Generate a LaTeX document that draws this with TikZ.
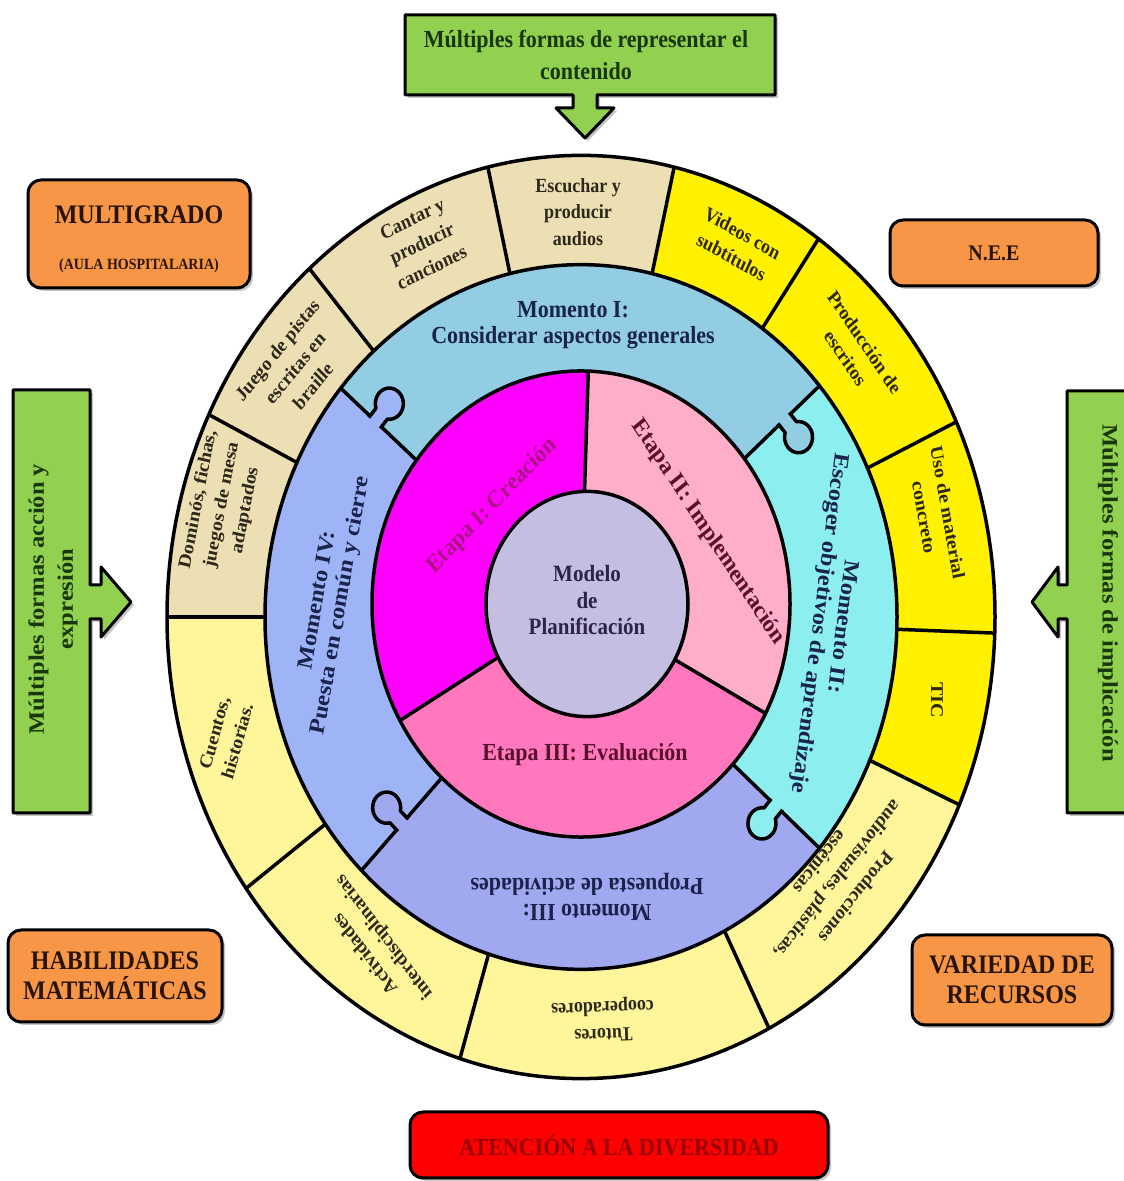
\documentclass[tikz,border=0pt]{standalone}
\usepackage{fontspec}
\setmainfont{Liberation Serif}
\usetikzlibrary{shadows}
\definecolor{tanc}{RGB}{236,223,180}
\definecolor{yel}{RGB}{255,241,0}
\definecolor{lyel}{RGB}{255,245,155}
\definecolor{mI}{RGB}{146,205,228}
\definecolor{mII}{RGB}{140,238,238}
\definecolor{mIII}{RGB}{160,168,240}
\definecolor{mIV}{RGB}{158,180,246}
\definecolor{eI}{RGB}{255,0,255}
\definecolor{eII}{RGB}{255,174,201}
\definecolor{eIII}{RGB}{255,120,190}
\definecolor{modc}{RGB}{196,190,226}
\definecolor{grn}{RGB}{146,208,80}
\definecolor{org}{RGB}{247,150,70}
\definecolor{redc}{RGB}{255,0,0}
\definecolor{otext}{RGB}{45,40,25}
\definecolor{mtext}{RGB}{25,35,75}
\definecolor{eItext}{RGB}{170,20,135}
\definecolor{etext}{RGB}{90,15,45}
\definecolor{modtext}{RGB}{45,35,75}
\definecolor{gtext}{RGB}{25,55,15}
\definecolor{ortext}{RGB}{40,20,5}
\definecolor{rtext}{RGB}{150,0,0}
\begin{document}
\begin{tikzpicture}[x=1pt,y=1pt,
  ringline/.style={line width=3.5pt, line join=round},
  boxline/.style={line width=3pt, line join=round, drop shadow={shadow xshift=3pt,shadow yshift=-3pt,opacity=0.45}},
  st/.style={yscale=1.115},
  otxt/.style={font=\bfseries\fontsize{18}{24}\selectfont, text=otext, align=center, inner sep=0pt},
  mtxt/.style={font=\bfseries\fontsize{22}{23.5}\selectfont, text=mtext, align=center, inner sep=0pt},
  etxt/.style={font=\bfseries\fontsize{22}{25}\selectfont, text=etext, align=center, inner sep=0pt},
  modtxt/.style={font=\bfseries\fontsize{21}{24}\selectfont, text=modtext, align=center, inner sep=0pt},
  gtxt/.style={font=\bfseries\fontsize{22}{29}\selectfont, text=gtext, align=center, inner sep=0pt},
  obox/.style={draw, boxline, rounded corners=13pt, fill=org, inner sep=0pt},
  ortxt/.style={font=\bfseries\fontsize{24}{27}\selectfont, text=ortext, align=center, inner sep=0pt}
]
\useasboundingbox[fill=white] (0,0) rectangle (1124,1181);

% ---------- outer rings ----------
\begin{scope}[shift={(581,564)}, yscale=1.115]
  \fill[yel] (0,0) -- (-24:414) arc[start angle=-24, end angle=77, radius=414] -- cycle;
  \fill[tanc] (0,0) -- (77:414) arc[start angle=77, end angle=180, radius=414] -- cycle;
  \fill[lyel] (0,0) -- (180:414) arc[start angle=180, end angle=336, radius=414] -- cycle;
  \fill[mI] (0,0) -- (41:316) arc[start angle=41, end angle=139.5, radius=316] -- cycle;
  \fill[mIV] (0,0) -- (139.5:316) arc[start angle=139.5, end angle=226, radius=316] -- cycle;
  \fill[mIII] (0,0) -- (226:316) arc[start angle=226, end angle=319, radius=316] -- cycle;
  \fill[mII] (0,0) -- (-41:316) arc[start angle=-41, end angle=41, radius=316] -- cycle;
  \foreach \ang in {-2,25,55,77,103,131,154,180,216,253,297,336}
    \draw[ringline] (\ang:316) -- (\ang:414);
  \foreach \ang in {41,139.5,226,319}
    \draw[ringline] (\ang:180) -- (\ang:316);
  \draw[ringline] (0,0) circle[radius=414];
  \draw[ringline] (0,0) circle[radius=316];
  \foreach \ang/\rad/\col in {139.5/270/mIV, 41/270/mI, 319/258/mII, 226/258/mIII} {
    \begin{scope}[shift={(\ang:\rad)}, rotate=\ang-90]
      \fill[\col] (-2.5,-7.5) -- (9.18,-7.5) arc[start angle=-147.6, end angle=147.6, radius=14] -- (-2.5,7.5) -- cycle;
      \draw[ringline] (-1.75,-7.5) -- (9.18,-7.5) arc[start angle=-147.6, end angle=147.6, radius=14] -- (-1.75,7.5);
    \end{scope}
  }
\end{scope}

% ---------- etapas ----------
\begin{scope}[shift={(581,577)}, yscale=1.115]
  \fill[eI] (0,0) -- (88:209) arc[start angle=88, end angle=210, radius=209] -- cycle;
  \fill[eII] (0,0) -- (-28:209) arc[start angle=-28, end angle=88, radius=209] -- cycle;
  \fill[eIII] (0,0) -- (210:209) arc[start angle=210, end angle=332, radius=209] -- cycle;
  \foreach \ang in {88,210,332} \draw[ringline] (0,0) -- (\ang:209);
  \draw[ringline] (0,0) circle[radius=209];
\end{scope}
\begin{scope}[shift={(587,577)}, yscale=1.115]
  \filldraw[ringline, fill=modc] (0,0) circle[radius=101];
\end{scope}

% ---------- texts in rings ----------
\node[mtxt, st] (m1) at (573,856) {Momento I:\\Considerar aspectos generales};
\node[mtxt, st, rotate=-98] (m2) at (830,556) {Momento II:\\Escoger objetivos de aprendizaje};
\node[mtxt, st, rotate=180] (m3) at (587,284) {Momento III:\\Propuesta de actividades};
\node[mtxt, st, rotate=79] (m4) at (330,578) {Momento IV:\\Puesta en común y cierre};

\node[etxt, st, text=eItext, rotate=43] (e1) at (492,675) {Etapa I: Creación};
\node[etxt, st, rotate=-54] (e2) at (708,649) {Etapa II: Implementación};
\node[etxt, st] (e3) at (585,426) {Etapa III: Evaluación};
\node[modtxt, st] (mod) at (587,581) {Modelo\\de\\Planificación};

\node[otxt, st] (s1) at (578,969) {Escuchar y\\producir\\audios};
\node[otxt, st, rotate=24] (s2) at (422,938) {Cantar y\\producir\\canciones};
\node[otxt, st, rotate=48] (s3) at (295,813) {Juego de pistas\\escritas en\\braille};
\node[otxt, st, rotate=78] (s4) at (222,676) {Dominós, fichas,\\juegos de mesa\\adaptados};
\node[otxt, st, rotate=73] (s5) at (226,444) {Cuentos,\\historias.};
\node[otxt, st, rotate=130] (s6) at (375,236) {Actividades\\interdisciplinarias};
\node[otxt, st, rotate=182] (s7) at (603,161) {Tutores\\cooperadores};
\node[otxt, st, rotate=229] (s8) at (838,301) {Producciones\\audiovisuales, plásticas,\\escénicas};
\node[otxt, st, rotate=-90] (s9) at (937,481) {TIC};
\node[otxt, st, rotate=-79] (s10) at (936,666) {Uso de material\\concreto};
\node[otxt, st, rotate=-53] (s11) at (855,831) {Producción de\\escritos};
\node[otxt, st, rotate=-27] (s12) at (737,936) {Videos con\\subtítulos};

% ---------- green callouts ----------
\draw[boxline, fill=grn] (405,1166) -- (775,1166) -- (775,1086) -- (597,1086) -- (597,1073) -- (614,1073) -- (585,1043) -- (556,1073) -- (573,1073) -- (573,1086) -- (405,1086) -- cycle;
\node[gtxt, st] (gtop) at (586,1126) {Múltiples formas de representar el\\contenido};

\draw[boxline, fill=grn] (13,791) -- (90,791) -- (90,596) -- (101,596) -- (101,614) -- (131,579) -- (101,544) -- (101,562) -- (90,562) -- (90,368) -- (13,368) -- cycle;
\node[gtxt, st, rotate=90] (gleft) at (53,582) {Múltiples formas acción y\\expresión};

\draw[boxline, fill=grn] (1140,790) -- (1067,790) -- (1067,596) -- (1058,596) -- (1058,614) -- (1032,579) -- (1058,544) -- (1058,562) -- (1067,562) -- (1067,368) -- (1140,368) -- cycle;
\node[gtxt, st, rotate=-90] (gright) at (1108,588) {Múltiples formas de implicación};

% ---------- orange / red boxes ----------
\node[obox, minimum width=222pt, minimum height=108pt] (multi) at (139,947) {};
\node[ortxt, st] (multiT) at (139,966) {MULTIGRADO};
\node[ortxt, st, font=\bfseries\fontsize{14}{16}\selectfont] (multiS) at (139,915) {(AULA HOSPITALARIA)};
\node[obox, minimum width=208pt, minimum height=66pt] (nee) at (994,928) {};
\node[ortxt, st, font=\bfseries\fontsize{20}{24}\selectfont] (neeT) at (994,928) {N.E.E};
\node[obox, minimum width=214pt, minimum height=92pt] (hab) at (115,205) {};
\node[ortxt, st] (habT) at (115,205) {HABILIDADES\\MATEMÁTICAS};
\node[obox, minimum width=200pt, minimum height=90pt] (var) at (1012,201) {};
\node[ortxt, st] (varT) at (1012,201) {VARIEDAD DE\\RECURSOS};
\node[obox, fill=redc, minimum width=418pt, minimum height=66pt] (aten) at (619,36) {};
\node[ortxt, st, text=rtext, font=\bfseries\fontsize{22}{26}\selectfont] (atenT) at (619,36) {ATENCIÓN A LA DIVERSIDAD};
\end{tikzpicture}
\end{document}
